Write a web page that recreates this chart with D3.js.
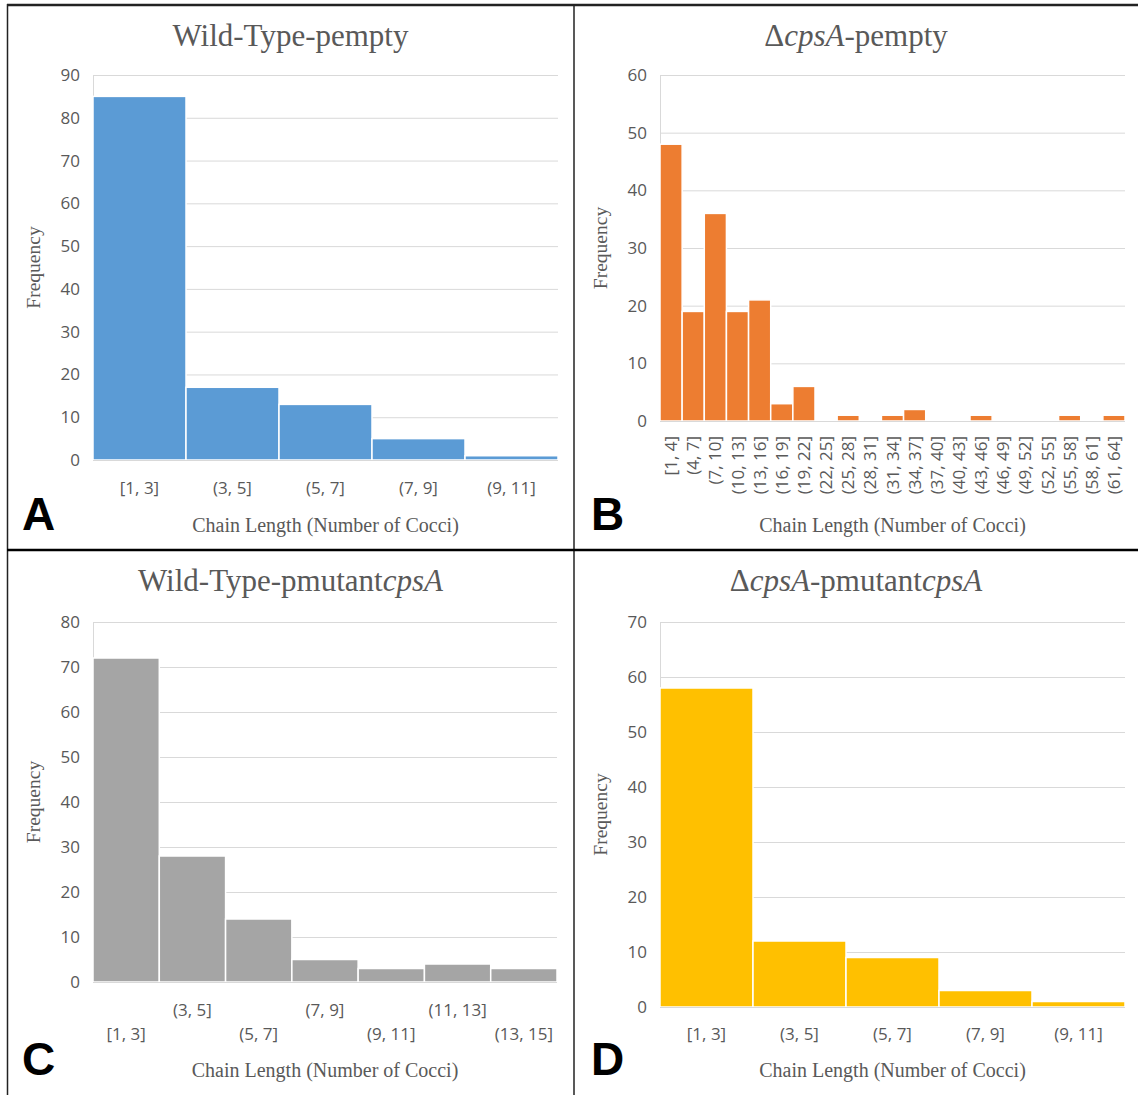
<!DOCTYPE html>
<meta charset="utf-8">
<style>
	body { margin: 0; background: #fff; }
	.tick text { fill: #595959; font-family: "Open Sans", sans-serif; }
	.grid line { stroke: #d9d9d9; }
	.title, .atitle { fill: #595959; font-family: "Liberation Serif", serif; }
	.letter { font-family: "Liberation Sans", Arial, sans-serif; font-weight: bold; fill: #000; }
</style>
<body></body>
<script src="https://d3js.org/d3.v7.min.js"></script>
<script>

	// panel A: Wild-Type-pempty
	var binsA = ["[1, 3]", "(3, 5]", "(5, 7]", "(7, 9]", "(9, 11]"];
	var countsA = [85, 17, 13, 5, 1];
	var ticksA = [0, 10, 20, 30, 40, 50, 60, 70, 80, 90];

	// panel B: dcpsA-pempty
	var binsB = ["[1, 4]", "(4, 7]", "(7, 10]", "(10, 13]", "(13, 16]", "(16, 19]", "(19, 22]",
		"(22, 25]", "(25, 28]", "(28, 31]", "(31, 34]", "(34, 37]", "(37, 40]", "(40, 43]",
		"(43, 46]", "(46, 49]", "(49, 52]", "(52, 55]", "(55, 58]", "(58, 61]", "(61, 64]"];
	var countsB = [48, 19, 36, 19, 21, 3, 6, 0, 1, 0, 1, 2, 0, 0, 1, 0, 0, 0, 1, 0, 1];
	var ticksB = [0, 10, 20, 30, 40, 50, 60];

	// panel C: Wild-Type-pmutantcpsA
	var binsC = ["[1, 3]", "(3, 5]", "(5, 7]", "(7, 9]", "(9, 11]", "(11, 13]", "(13, 15]"];
	var countsC = [72, 28, 14, 5, 3, 4, 3];
	var ticksC = [0, 10, 20, 30, 40, 50, 60, 70, 80];

	// panel D: dcpsA-pmutantcpsA
	var binsD = ["[1, 3]", "(3, 5]", "(5, 7]", "(7, 9]", "(9, 11]"];
	var countsD = [58, 12, 9, 3, 1];
	var ticksD = [0, 10, 20, 30, 40, 50, 60, 70];

	var W = 1138, H = 1095;

	var svg = d3.select("body").append("svg")
		.attr("width", W)
		.attr("height", H);

	var panels = [
		{bins: binsA, counts: countsA, ticks: ticksA, color: "#5b9bd5", letter: "A",
			title: [["Wild-Type-pempty", false]],
			box: [7, 5, 574, 550], plot: [93, 75, 558, 460], xlab: "flat"},
		{bins: binsB, counts: countsB, ticks: ticksB, color: "#ed7d31", letter: "B",
			title: [["\u0394", false], ["cpsA", true], ["-pempty", false]],
			box: [574, 5, 1138, 550], plot: [660, 75, 1125, 421], xlab: "rot"},
		{bins: binsC, counts: countsC, ticks: ticksC, color: "#a5a5a5", letter: "C",
			title: [["Wild-Type-pmutant", false], ["cpsA", true]],
			box: [7, 550, 574, 1095], plot: [93, 622, 557, 982], xlab: "stagger"},
		{bins: binsD, counts: countsD, ticks: ticksD, color: "#ffc000", letter: "D",
			title: [["\u0394", false], ["cpsA", true], ["-pmutant", false], ["cpsA", true]],
			box: [574, 550, 1138, 1095], plot: [660, 622, 1125, 1007], xlab: "low"}
	];

	panels.forEach(drawPanel);

	function drawPanel(p) {
		var g = svg.append("g");
		var l = p.plot[0], t = p.plot[1], r = p.plot[2], b = p.plot[3];
		var cx = (p.box[0] + p.box[2]) / 2;

		var x = d3.scaleBand().domain(p.bins).range([l, r]).padding(0);
		var y = d3.scaleLinear().domain([0, d3.max(p.ticks)]).range([b, t]);

		// grid
		g.append("g")
			.attr("class", "grid")
			.attr("transform", "translate(" + l + ",0)")
			.call(d3.axisRight(y).tickValues(p.ticks).tickSize(r - l).tickFormat(""))
			.call(function(s) { s.select(".domain").remove(); });

		// y axis labels
		g.append("g")
			.attr("transform", "translate(" + l + ",0)")
			.call(d3.axisLeft(y).tickValues(p.ticks).tickSize(0).tickPadding(13))
			.call(function(s) {
				s.select(".domain").attr("stroke", "#d9d9d9");
				s.selectAll("text").style("font-size", "17px");
			});

		// bars
		g.selectAll("rect.bar")
			.data(p.counts)
			.enter()
			.append("rect")
			.attr("class", "bar")
			.attr("x", function(d, i) { return x(p.bins[i]); })
			.attr("width", x.bandwidth())
			.attr("y", function(d) { return y(d); })
			.attr("height", function(d) { return b - y(d); })
			.attr("fill", function(d) { return d > 0 ? p.color : "none"; })
			.attr("stroke", "#fff")
			.attr("stroke-width", 1.5);

		// x axis line
		g.append("line")
			.attr("x1", l).attr("x2", r)
			.attr("y1", b + 0.5).attr("y2", b + 0.5)
			.attr("stroke", "#d9d9d9");

		// x labels
		var xl = g.append("g");
		p.bins.forEach(function(d, i) {
			var xc = x(d) + x.bandwidth() / 2;
			if (p.xlab == "rot") {
				xl.append("text")
					.attr("transform", "translate(" + (xc + 6) + "," + (b + 15) + ") rotate(-90)")
					.attr("text-anchor", "end")
					.style("font-family", "Open Sans, sans-serif")
					.style("font-size", "17px")
					.style("fill", "#595959")
					.text(d);
			} else {
				var yy = b + 34;
				if (p.xlab == "stagger") yy = (i % 2 == 0) ? b + 58 : b + 34;
				if (p.xlab == "low") yy = b + 33;
				xl.append("text")
					.attr("x", xc).attr("y", yy)
					.attr("text-anchor", "middle")
					.style("font-family", "Open Sans, sans-serif")
					.style("font-size", "17px")
					.style("fill", "#595959")
					.text(d);
			}
		});

		// title
		var tt = g.append("text")
			.attr("class", "title")
			.attr("x", cx)
			.attr("y", p.box[1] + 41)
			.attr("text-anchor", "middle")
			.style("font-size", "31px");
		p.title.forEach(function(s) {
			tt.append("tspan")
				.style("font-style", s[1] ? "italic" : "normal")
				.text(s[0]);
		});

		// axis titles
		g.append("text")
			.attr("class", "atitle")
			.attr("x", (l + r) / 2)
			.attr("y", p.box[1] + 527)
			.attr("text-anchor", "middle")
			.style("font-size", "20px")
			.text("Chain Length (Number of Cocci)");

		g.append("text")
			.attr("class", "atitle")
			.attr("transform", "translate(" + (p.box[0] + 33) + "," + ((t + b) / 2) + ") rotate(-90)")
			.attr("text-anchor", "middle")
			.style("font-size", "19.5px")
			.text("Frequency");

		// panel letter
		g.append("text")
			.attr("class", "letter")
			.attr("x", p.box[0] + (p.letter == "A" || p.letter == "C" ? 15 : 17))
			.attr("y", p.box[1] + 525)
			.style("font-size", "46px")
			.text(p.letter);
	}

	// frame
	var frame = svg.append("g").attr("stroke", "#222");
	frame.append("line").attr("x1", 7).attr("x2", W).attr("y1", 5).attr("y2", 5).attr("stroke-width", 2.5);
	frame.append("line").attr("x1", 7.5).attr("x2", 7.5).attr("y1", 4).attr("y2", H).attr("stroke-width", 1.5);
	frame.append("line").attr("x1", 574).attr("x2", 574).attr("y1", 4).attr("y2", H).attr("stroke-width", 1.5);
	frame.append("line").attr("x1", 7).attr("x2", W).attr("y1", 550).attr("y2", 550).attr("stroke-width", 2.5).attr("stroke", "#000");

</script>
